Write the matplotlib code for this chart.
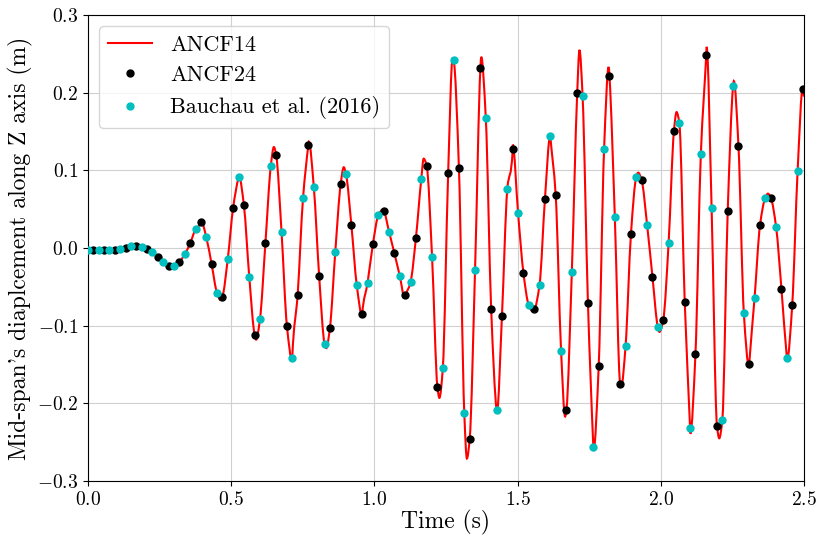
import numpy as np
import matplotlib
matplotlib.use("Agg")
import matplotlib.pyplot as plt
from matplotlib.path import Path
from matplotlib.patches import PathPatch
from matplotlib.lines import Line2D

# Sampling of the two point series (they alternate on the same grid)
dt = 0.01877

# Bauchau et al. (2016) points, t = 0, 2dt, 4dt, ...
z_bauchau = [-0.003, -0.003, -0.003, -0.001, 0.002, 0.001, -0.005, -0.018, -0.023, -0.008,
             0.024, 0.014, -0.058, -0.014, 0.091, -0.037, -0.091, 0.105, 0.021, -0.141,
             0.064, 0.079, -0.123, -0.005, 0.095, -0.048, -0.045, 0.042, 0.021, -0.036,
             -0.044, 0.089, -0.011, -0.155, 0.242, -0.213, -0.028, 0.167, -0.208, 0.076,
             0.045, -0.074, -0.047, 0.144, -0.132, -0.031, 0.196, -0.256, 0.127, 0.040,
             -0.126, 0.092, 0.030, -0.102, 0.006, 0.161, -0.232, 0.121, 0.052, -0.221,
             0.208, -0.084, -0.064, 0.065, 0.027, -0.141, 0.099]

# ANCF24 points, t = dt, 3dt, 5dt, ...
z_ancf24 = [-0.003, -0.003, -0.003, 0.000, 0.003, -0.001, -0.011, -0.023, -0.018, 0.006,
            0.033, -0.021, -0.063, 0.052, 0.055, -0.112, 0.006, 0.120, -0.100, -0.060,
            0.133, -0.036, -0.103, 0.082, 0.029, -0.085, 0.005, 0.048, -0.007, -0.061,
            0.013, 0.106, -0.179, 0.097, 0.103, -0.246, 0.232, -0.079, -0.088, 0.127,
            -0.032, -0.079, 0.063, 0.068, -0.208, 0.199, -0.071, -0.152, 0.221, -0.175,
            0.018, 0.087, -0.037, -0.093, 0.151, -0.069, -0.136, 0.248, -0.229, 0.048,
            0.131, -0.149, 0.029, 0.065, -0.053, -0.073, 0.205]

# ANCF14 curve: extrema (the curve also passes the points above)
t_peaks = [0.395, 0.463, 0.527, 0.587, 0.649, 0.713, 0.771, 0.832, 0.893, 0.957,
           1.029, 1.105, 1.172, 1.227, 1.273, 1.323, 1.373, 1.428, 1.483, 1.550,
           1.614, 1.666, 1.716, 1.765, 1.818, 1.862, 1.921, 1.995, 2.055, 2.103,
           2.160, 2.204, 2.255, 2.308, 2.374, 2.441, 2.496, 2.500]
z_peaks = [0.035, -0.067, 0.093, -0.118, 0.130, -0.145, 0.137, -0.129, 0.104, -0.087,
           0.049, -0.063, 0.115, -0.193, 0.244, -0.271, 0.246, -0.211, 0.133, -0.080,
           0.145, -0.217, 0.255, -0.261, 0.233, -0.178, 0.097, -0.108, 0.175, -0.239,
           0.259, -0.245, 0.215, -0.153, 0.070, -0.144, 0.208, 0.195]

t_bauchau = dt * 2 * np.arange(len(z_bauchau))
t_ancf24 = dt * (2 * np.arange(len(z_ancf24)) + 1)

t_line = np.concatenate([t_bauchau, t_ancf24, t_peaks])
z_line = np.concatenate([z_bauchau, z_ancf24, z_peaks])
order = np.argsort(t_line)
t_line, z_line = t_line[order], z_line[order]


def smooth_path(x, y):
    # draw the read points as a smooth (shape preserving) Bezier curve
    h = np.diff(x)
    d = np.diff(y) / h
    m = np.zeros_like(y)
    for k in range(1, len(x) - 1):
        if d[k - 1] * d[k] > 0:
            w1 = 2 * h[k] + h[k - 1]
            w2 = h[k] + 2 * h[k - 1]
            m[k] = (w1 + w2) / (w1 / d[k - 1] + w2 / d[k])
    m[0], m[-1] = d[0], d[-1]
    verts = [(x[0], y[0])]
    codes = [Path.MOVETO]
    for k in range(len(x) - 1):
        verts += [(x[k] + h[k] / 3, y[k] + m[k] * h[k] / 3),
                  (x[k + 1] - h[k] / 3, y[k + 1] - m[k + 1] * h[k] / 3),
                  (x[k + 1], y[k + 1])]
        codes += [Path.CURVE4] * 3
    return Path(verts, codes)


plt.rcParams['font.family'] = 'cmr10'
plt.rcParams['mathtext.fontset'] = 'cm'
plt.rcParams['axes.formatter.use_mathtext'] = True

fig = plt.figure(figsize=(8.2, 5.36), dpi=100)
ax = fig.add_axes([0.1073, 0.1026, 0.8732, 0.8694])

ax.add_patch(PathPatch(smooth_path(t_line, z_line), facecolor='none',
                       edgecolor='r', lw=1.5, zorder=2))
ax.plot(t_ancf24, z_ancf24, 'o', color='k', ms=5, label='ANCF24', zorder=3)
ax.plot(t_bauchau, z_bauchau, 'o', color='c', ms=5, label='Bauchau et al. (2016)', zorder=3)

ax.set_xlim(0, 2.5)
ax.set_ylim(-0.3, 0.3)
ax.set_xticks([0.0, 0.5, 1.0, 1.5, 2.0, 2.5])
ax.set_yticks([-0.3, -0.2, -0.1, 0.0, 0.1, 0.2, 0.3])
ax.grid(True, color='#d0d0d0', lw=0.8)
ax.tick_params(labelsize=14)
ax.set_xlabel('Time (s)', fontsize=17, labelpad=1)
ax.set_ylabel("Mid-span's diaplcement along Z axis (m)", fontsize=17, labelpad=3)

handles, labels = ax.get_legend_handles_labels()
handles = [Line2D([], [], color='r', lw=1.5)] + handles
labels = ['ANCF14'] + labels
ax.legend(handles, labels, loc='upper left', fontsize=16, framealpha=0.8)

plt.savefig('out.png', dpi=100)
